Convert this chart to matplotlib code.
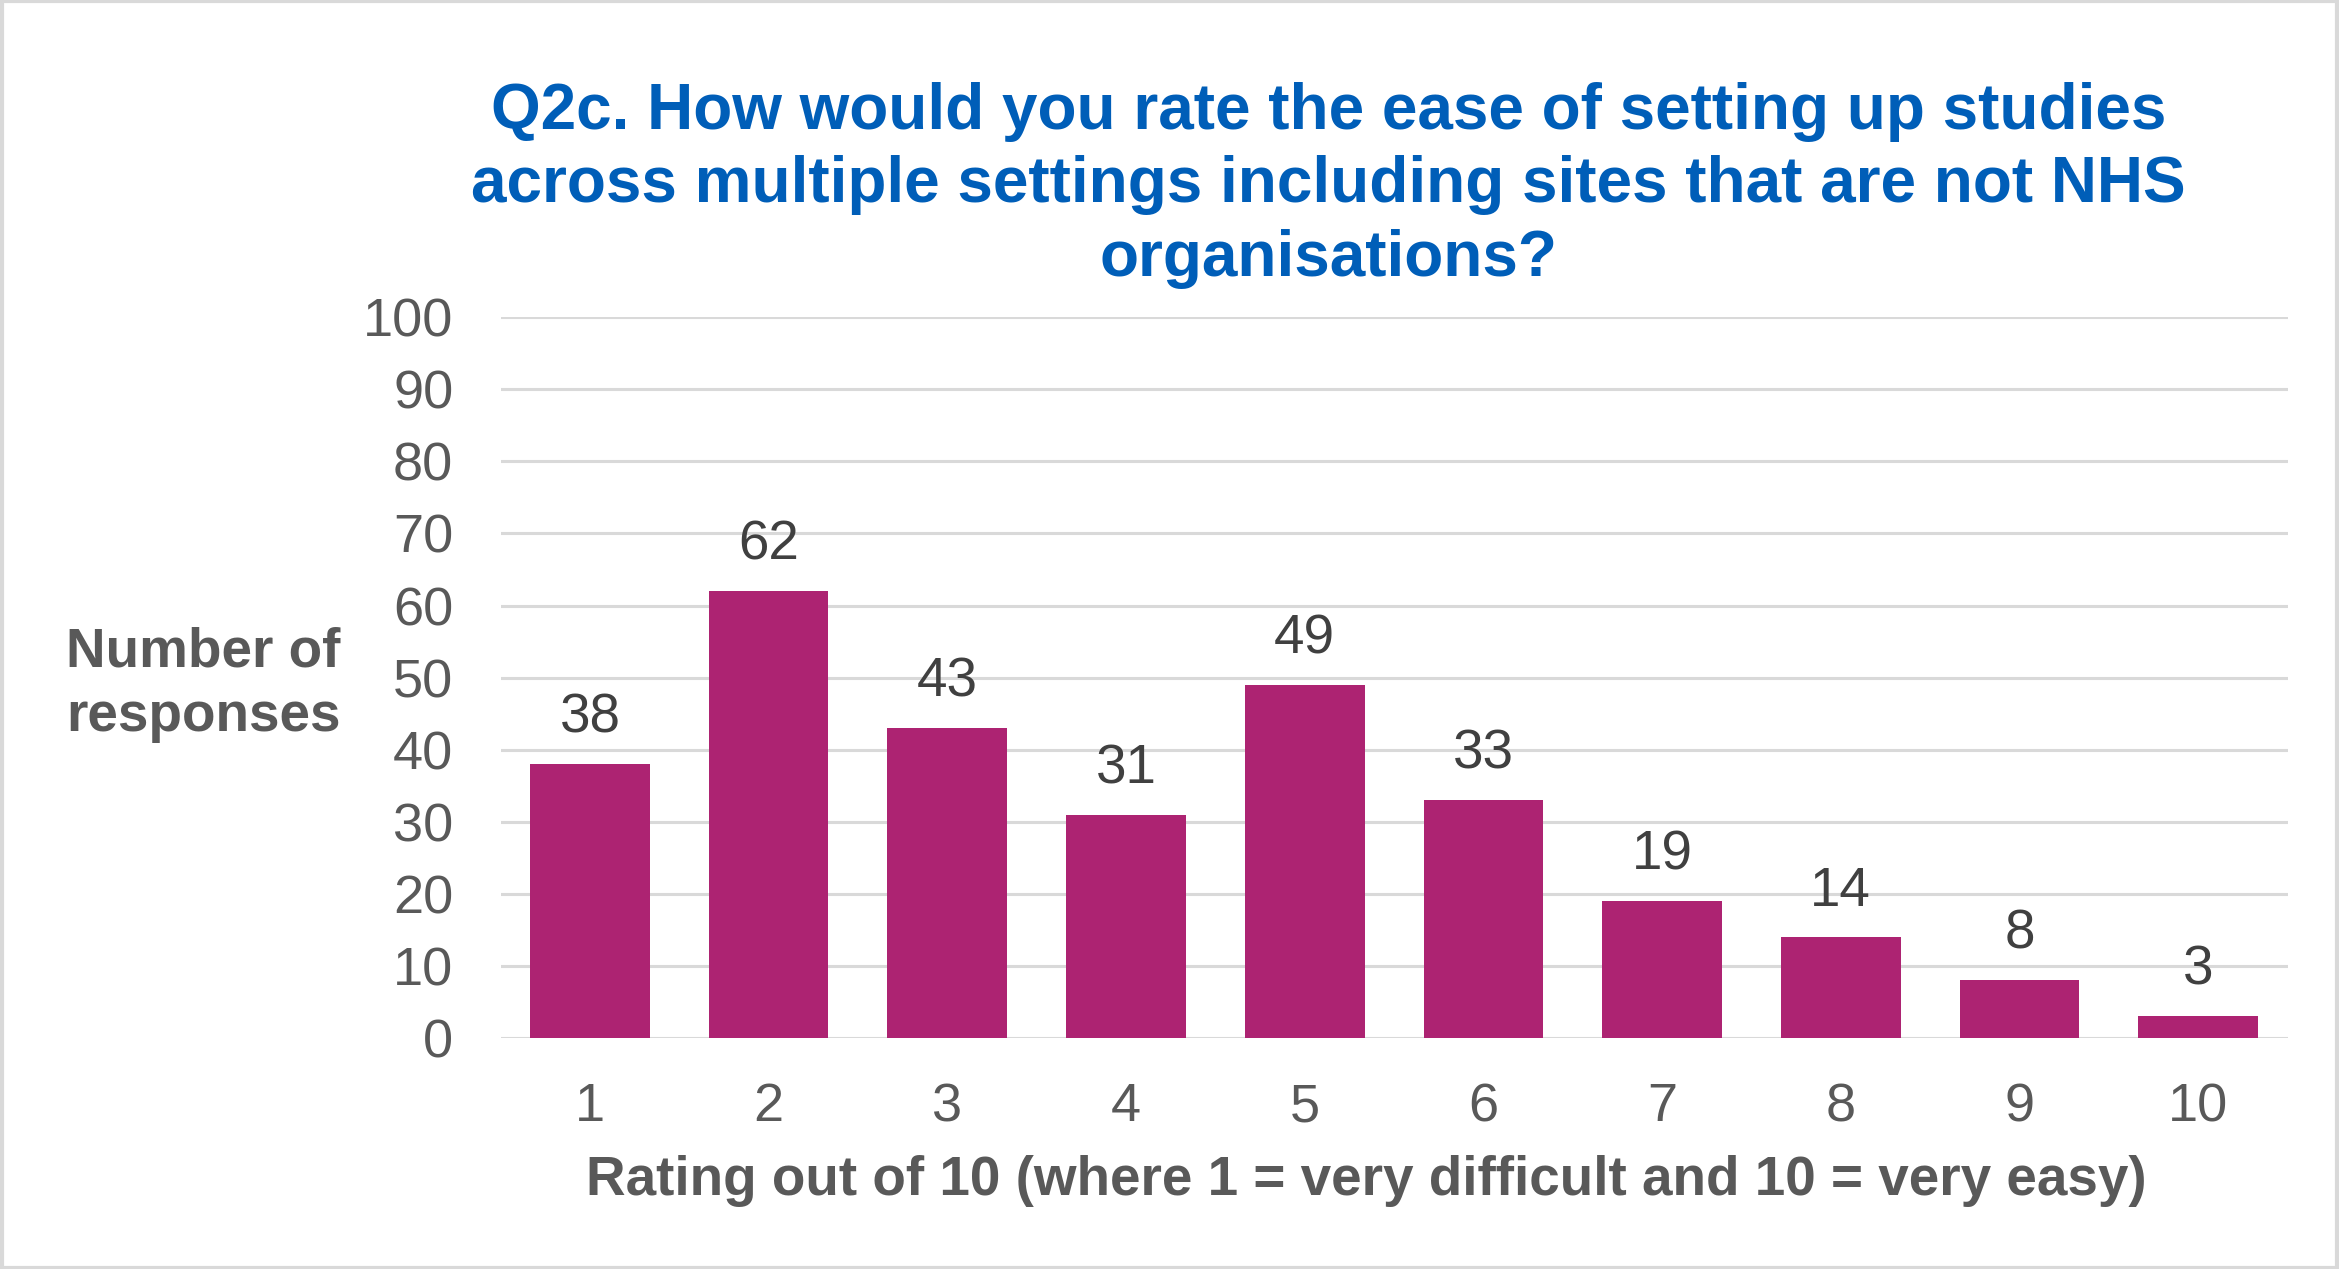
import matplotlib
matplotlib.use("Agg")
import matplotlib.pyplot as plt
from matplotlib.patches import Rectangle

categories = ["1", "2", "3", "4", "5", "6", "7", "8", "9", "10"]
values = [38, 62, 43, 31, 49, 33, 19, 14, 8, 3]
yticks = [0, 10, 20, 30, 40, 50, 60, 70, 80, 90, 100]
title = ("Q2c. How would you rate the ease of setting up studies\n"
         "across multiple settings including sites that are not NHS\n"
         "organisations?")
xlabel = "Rating out of 10 (where 1 = very difficult and 10 = very easy)"
ylabel = "Number of\nresponses"

plt.rcParams['font.family'] = ['Liberation Sans', 'DejaVu Sans']

BAR = "#AD2372"
GREY = "#595959"
GRID = "#D9D9D9"
BLUE = "#005EB8"

fig = plt.figure(figsize=(23.39, 12.69), dpi=100)
ax = fig.add_axes([0.214, 0.182, 0.764, 0.568])

x = list(range(len(categories)))
ax.bar(x, values, width=0.67, color=BAR, zorder=3)
for xi, v in zip(x, values):
    ax.annotate(str(v), (xi, v), xytext=(0, 14), textcoords="offset points",
                ha="center", va="bottom", fontsize=39.5, color="#404040")

ax.set_xlim(-0.5, len(categories) - 0.5)
ax.set_ylim(0, 100)
ax.set_yticks(yticks)
ax.set_xticks(x)
ax.set_xticklabels(categories)
ax.tick_params(axis='both', length=0, labelsize=39, labelcolor=GREY)
ax.tick_params(axis='y', pad=34)
ax.tick_params(axis='x', pad=32)
ax.grid(axis='y', color=GRID, linewidth=2.2, zorder=0)
for s in ax.spines.values():
    s.set_visible(False)

fig.text(0.568, 0.854, title, ha="center", va="center", fontsize=46,
         fontweight="bold", color=BLUE, linespacing=1.29)
fig.text(0.584, 0.069, xlabel, ha="center", va="center", fontsize=39.5,
         fontweight="bold", color=GREY)
fig.text(0.087, 0.4605, ylabel, ha="center", va="center", fontsize=39.5,
         fontweight="bold", color=GREY, linespacing=1.33)

fig.patches.append(Rectangle((0.001, 0.001), 0.998, 0.998, transform=fig.transFigure,
                             fill=False, edgecolor=GRID, linewidth=3))

fig.savefig("out.png", dpi=100)
